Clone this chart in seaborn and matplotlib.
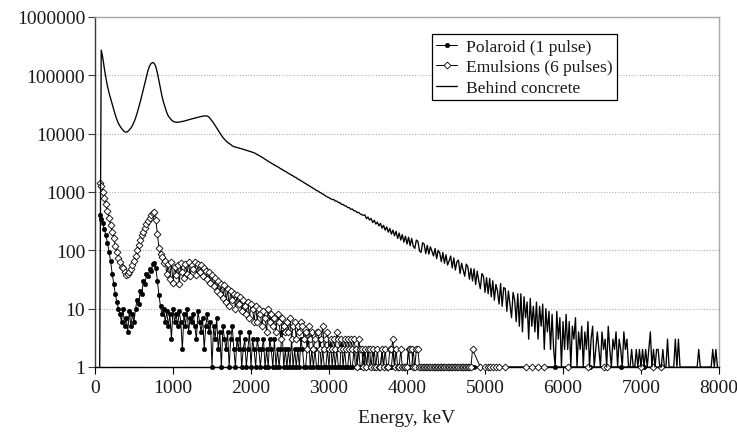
import numpy as np
import pandas as pd
import matplotlib
matplotlib.use("Agg")
import matplotlib.pyplot as plt
import seaborn as sns
from matplotlib.ticker import FixedLocator, FixedFormatter, NullLocator

# Spectrometer channel calibration (keV)
CHANNEL_START = 60
CHANNEL_WIDTH = 20

# Counts per channel, behind the concrete shield
behind_concrete = [
    1, 270000, 200000, 130000, 90000, 65000, 50000, 40000, 32000, 26000,
    21000, 17500, 15000, 13500, 12300, 11400, 10800, 10600, 10900, 11600,
    12500, 13800, 15800, 18500, 22500, 28000, 35000, 45000, 57000, 74000,
    95000, 122000, 145000, 160000, 166000, 160000, 140000, 110000, 80000, 58000,
    43000, 34000, 28000, 23000, 20000, 18500, 17200, 16300, 15900, 15700,
    15700, 15800, 16000, 16200, 16400, 16700, 17000, 17300, 17600, 17900,
    18200, 18500, 18800, 19100, 19400, 19700, 19900, 20100, 20200, 20000,
    19300, 18000, 16600, 15200, 13800, 12500, 11300, 10300, 9400, 8600,
    8000, 7500, 7100, 6800, 6500, 6200, 6000, 5900, 5800, 5700,
    5600, 5500, 5400, 5300, 5200, 5100, 5000, 4900, 4800, 4700,
    4550, 4400, 4250, 4100, 3950, 3800, 3650, 3500, 3380, 3250,
    3120, 3010, 2900, 2810, 2690, 2620, 2500, 2440, 2320, 2260,
    2180, 2080, 2030, 1940, 1890, 1800, 1760, 1670, 1630, 1550,
    1510, 1440, 1400, 1330, 1300, 1240, 1200, 1150, 1110, 1060,
    1040, 990, 960, 920, 890, 850, 820, 800, 770, 740,
    745, 700, 698, 660, 655, 615, 612, 580, 575, 540,
    540, 505, 510, 478, 472, 445, 448, 420, 410, 398,
    405, 350, 372, 330, 352, 300, 328, 282, 305, 262,
    290, 240, 268, 222, 252, 205, 238, 190, 222, 178,
    212, 160, 198, 150, 186, 138, 175, 128, 168, 120,
    160, 118, 108, 150, 142, 98, 92, 135, 128, 88,
    122, 86, 115, 96, 80, 108, 72, 100, 90, 64,
    92, 60, 84, 56, 66, 80, 50, 74, 46, 64,
    68, 40, 60, 46, 36, 58, 52, 32, 49, 30,
    48, 26, 44, 30, 22, 40, 36, 19, 34, 18,
    33, 16, 30, 14, 26, 20, 12, 27, 11, 23,
    22, 9, 20, 12, 7, 19, 14, 6, 18, 5,
    18, 4, 16, 7, 13, 3, 15, 5, 11, 4,
    13, 3, 11, 5, 12, 2, 10, 4, 9, 2,
    8, 2, 1, 9, 3, 7, 1, 6, 2, 8,
    2, 6, 1, 5, 3, 7, 1, 4, 2, 5,
    1, 4, 2, 6, 1, 3, 5, 1, 2, 4,
    2, 1, 4, 2, 3, 1, 5, 2, 1, 3,
    2, 4, 1, 3, 2, 1, 4, 2, 3, 1,
    1, 2, 1, 1, 2, 1, 2, 1, 2, 1,
    2, 1, 2, 4, 1, 2, 1, 2, 2, 1,
    1, 2, 1, 1, 3, 1, 1, 1, 1, 3,
    1, 3, 1, 1, 1, 1, 1, 1, 1, 1,
    1, 1, 1, 1, 2, 1, 1, 1, 1, 1,
    1, 1, 1, 2, 1, 2, 1,
]

# Nuclear emulsions, six pulses
emulsions = [
    1420, 1250, 1000, 800, 620, 480, 360, 270, 210, 165,
    120, 95, 74, 63, 52, 49, 42, 38, 40, 43,
    48, 56, 66, 80, 100, 122, 150, 180, 210, 245,
    280, 320, 360, 400, 440, 450, 330, 190, 110, 85,
    78, 60, 66, 40, 58, 32, 62, 28, 52, 38,
    55, 26, 60, 42, 33, 58, 40, 62, 36, 56,
    48, 62, 38, 58, 42, 55, 36, 50, 44, 32,
    42, 28, 38, 24, 34, 20, 30, 18, 26, 15,
    25, 13, 22, 11, 20, 14, 18, 10, 17, 12,
    16, 9, 14, 11, 8, 13, 7, 12, 10, 6,
    11, 6, 10, 8, 5, 9, 7, 4, 10, 6,
    8, 5, 7, 4, 8, 6, 3, 7, 5, 4,
    6, 4, 7, 3, 5, 6, 3, 5, 4, 6,
    5, 3, 4, 2, 5, 3, 4, 2, 3, 4,
    4, 2, 3, 5, 2, 3, 4, 2, 3, 2,
    3, 2, 4, 3, 2, 3, 2, 3, 2, 3,
    2, 3, 2, 3, 2, 1, 3, 2, 2, 1,
    2, 1, 2, 2, 1, 2, 1, 1, 2, 1,
    1, 2, 1, 2, 1, 1, 2, 2, 3, 1,
    2, 1, 1, 2, 1, 1, 1, 1, 2, 2,
    2, 1, 1, 2, 2, 1, 1, 1, 1, 1,
    1, 1, 1, 1, 1, 1, 1, 1, 1, 1,
    1, 1, 1, 1, 1, 1, 1, 1, 1, 1,
    1, 1, 1, 1, 1, 1, 1, 1, 1, 2,
]
emulsions_tail_energy = [4940, 5000, 5040, 5060, 5100, 5140, 5180, 5260, 5520,
                         5600, 5680, 5760, 6060, 6320, 6520, 6560, 7000, 7160, 7260]
emulsions_tail_counts = [1, 1, 1, 1, 1, 1, 1, 1, 1, 1, 1, 1, 1, 1, 1, 1, 1, 1, 1]

# Polaroid film, single pulse
polaroid = [
    400, 350, 290, 230, 180, 135, 95, 65, 40, 27,
    18, 13, 10, 8, 6, 10, 5, 7, 4, 9,
    5, 8, 6, 10, 14, 12, 20, 18, 30, 26,
    40, 36, 47, 44, 58, 60, 50, 30, 17, 11,
    8, 10, 6, 9, 5, 8, 3, 10, 6, 8,
    5, 9, 6, 2, 8, 5, 10, 4, 7, 6,
    8, 5, 3, 9, 6, 4, 7, 2, 5, 8,
    4, 6, 1, 5, 3, 7, 2, 4, 1, 5,
    3, 2, 4, 1, 3, 5, 2, 1, 3, 2,
    4, 1, 2, 3, 1, 2, 4, 1, 3, 2,
    1, 3, 2, 1, 2, 3, 1, 2, 1, 3,
    2, 1, 3, 1, 2, 1, 2, 4, 1, 2,
    1, 2, 1, 3, 1, 2, 1, 2, 1, 3,
    2, 1, 1, 2, 3, 1, 2, 1, 2, 1,
    1, 3, 1, 2, 1, 1, 2, 1, 3, 1,
    2, 1, 2, 1, 1, 3, 1, 2, 1, 1,
    2, 1, 1, 2, 1, 1, 2, 1, 1, 2,
    1, 1, 2, 1, 1, 1, 2, 1, 1, 1,
    1, 2, 1, 1, 1, 1, 1, 1, 2, 1,
    1, 1, 1, 1, 1, 1, 1, 1, 2, 1,
    1, 2, 1, 1, 1, 1, 1, 1, 1, 1,
    1, 1, 1, 1, 1, 1, 1, 1, 1, 1,
    1, 1, 1, 1, 1, 1, 1, 1, 1, 1,
    1, 1, 1,
]
polaroid_tail_energy = [4780, 4860, 5900, 6340, 6740, 7040]
polaroid_tail_counts = [1, 1, 1, 1, 1, 1]

series_labels = ["Polaroid (1 pulse)", "Emulsions (6 pulses)", "Behind concrete"]
y_ticks = [1, 10, 100, 1000, 10000, 100000, 1000000]
y_tick_labels = ["1", "10", "100", "1000", "10000", "100000", "1000000"]
x_ticks = [0, 1000, 2000, 3000, 4000, 5000, 6000, 7000, 8000]
x_tick_labels = ["0", "1000", "2000", "3000", "4000", "5000", "6000", "7000", "8000"]


def spectrum_frame(counts, tail_energy=(), tail_counts=()):
    energy = CHANNEL_START + CHANNEL_WIDTH * np.arange(len(counts))
    return pd.DataFrame({
        "energy": np.concatenate([energy, np.asarray(tail_energy, dtype=float)]),
        "counts": np.concatenate([np.asarray(counts, dtype=float),
                                  np.asarray(tail_counts, dtype=float)]),
    })


pol_df = spectrum_frame(polaroid, polaroid_tail_energy, polaroid_tail_counts)
emu_df = spectrum_frame(emulsions, emulsions_tail_energy, emulsions_tail_counts)
con_df = spectrum_frame(behind_concrete)

sns.set_style("ticks")
plt.rcParams["font.family"] = ["Liberation Serif", "DejaVu Serif"]

fig = plt.figure(figsize=(7.37, 4.35), dpi=100)
ax = fig.add_axes([95 / 737, 67 / 435, 624 / 737, 350 / 435])
ax.set_yscale("log")

sns.lineplot(data=pol_df, x="energy", y="counts", ax=ax, estimator=None,
             color="black", linewidth=0.7, marker="o", markersize=3.2,
             markerfacecolor="black", markeredgecolor="black",
             markeredgewidth=0.4, label=series_labels[0], clip_on=False,
             zorder=3)
sns.lineplot(data=emu_df, x="energy", y="counts", ax=ax, estimator=None,
             color="black", linewidth=0.7, marker="D", markersize=3.5,
             markerfacecolor="white", markeredgecolor="black",
             markeredgewidth=0.6, label=series_labels[1], clip_on=False,
             zorder=4)
sns.lineplot(data=con_df, x="energy", y="counts", ax=ax, estimator=None,
             color="black", linewidth=0.95, label=series_labels[2],
             clip_on=False, zorder=5)

ax.set_xlim(0, 8000)
ax.set_ylim(1, 1000000)

ax.yaxis.set_major_locator(FixedLocator(y_ticks))
ax.yaxis.set_major_formatter(FixedFormatter(y_tick_labels))
ax.yaxis.set_minor_locator(NullLocator())
ax.xaxis.set_major_locator(FixedLocator(x_ticks))
ax.xaxis.set_major_formatter(FixedFormatter(x_tick_labels))

ax.yaxis.grid(True, linestyle=(0, (1, 1.5)), color="#b0b0b0", linewidth=0.8)
ax.xaxis.grid(False)

for side, col in (("left", "#3a3a3a"), ("bottom", "black"),
                  ("top", "#a8a8a8"), ("right", "#a8a8a8")):
    ax.spines[side].set_visible(True)
    ax.spines[side].set_color(col)
    ax.spines[side].set_linewidth(1.0)

ax.tick_params(axis="y", direction="out", length=5, width=0.8,
               color="#3a3a3a", pad=2, labelsize=14, labelcolor="#1a1a1a")
ax.tick_params(axis="x", direction="out", length=5, width=0.8,
               color="black", pad=4, labelsize=14, labelcolor="#1a1a1a")

ax.set_xlabel("Energy, keV", fontsize=14, color="#1a1a1a", labelpad=9)
ax.set_ylabel("")

leg = ax.legend(loc="upper left", bbox_to_anchor=(0.54, 0.951),
                borderaxespad=0, frameon=True, fancybox=False,
                edgecolor="black", framealpha=1, fontsize=12.6,
                handlelength=1.2, handletextpad=0.5, labelspacing=0.25,
                borderpad=0.25)
leg.get_frame().set_linewidth(0.9)
for t in leg.get_texts():
    t.set_color("#1a1a1a")

fig.savefig("out.png", dpi=100)
